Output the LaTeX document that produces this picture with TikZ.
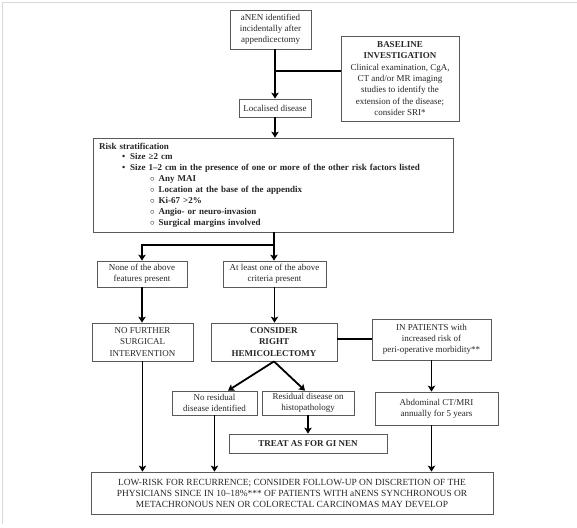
\documentclass[tikz,border=0pt]{standalone}
\usepackage{fontspec}
\setmainfont{Liberation Serif}
\usetikzlibrary{arrows.meta}
\begin{document}
\begin{tikzpicture}[x=1pt,y=-1pt,
  bx/.style={draw=black!65, line width=0.8pt, inner sep=0pt, align=center,
    font=\fontsize{9}{11.3}\selectfont, text=black!85},
  arr/.style={line width=1.8pt, -{Stealth[length=6pt,width=7.5pt,inset=1.5pt]}},
  ln/.style={line width=1.8pt}]
\useasboundingbox (0,0) rectangle (577,527);
\draw[black!15, line width=0.8pt] (2,524) -- (2,2) -- (577,2);

\node[bx, minimum width=81pt, minimum height=39pt] (anen) at (270.5,29.5)
  {aNEN identified\\incidentally after\\appendicectomy};
\node[bx, minimum width=72pt, minimum height=18pt] (loc) at (275,108) {Localised disease};
\node[bx, minimum width=118pt, minimum height=85pt] (base) at (400,78.5)
  {\textbf{BASELINE}\\\textbf{INVESTIGATION}\\Clinical examination, CgA,\\CT and/or MR imaging\\studies to identify the\\extension of the disease;\\consider SRI*};
\node[bx, minimum width=360pt, minimum height=94pt, text width=352pt, align=left,
  font=\fontsize{9}{10.9}\selectfont\bfseries] (risk) at (273,185)
  {\hspace*{2pt}Risk stratification\\
   \hspace*{25pt}\textbullet\hspace{5pt}Size ≥2 cm\\
   \hspace*{25pt}\textbullet\hspace{5pt}Size 1–2 cm in the presence of one or more of the other risk factors listed\\
   \hspace*{53pt}$\circ$\hspace{4pt}Any MAI\\
   \hspace*{53pt}$\circ$\hspace{4pt}Location at the base of the appendix\\
   \hspace*{53pt}$\circ$\hspace{4pt}Ki-67 >2\%\\
   \hspace*{53pt}$\circ$\hspace{4pt}Angio- or neuro-invasion\\
   \hspace*{53pt}$\circ$\hspace{4pt}Surgical margins involved};
\node[bx, minimum width=90pt, minimum height=26pt] (none) at (142,274)
  {None of the above\\features present};
\node[bx, minimum width=103pt, minimum height=26pt] (atleast) at (274.5,274)
  {At least one of the above\\criteria present};
\node[bx, minimum width=101pt, minimum height=38pt] (nofurther) at (142.5,342)
  {NO FURTHER\\SURGICAL\\INTERVENTION};
\node[bx, minimum width=126pt, minimum height=38pt] (consider) at (274,342)
  {\textbf{CONSIDER}\\\textbf{RIGHT}\\\textbf{HEMICOLECTOMY}};
\node[bx, minimum width=119pt, minimum height=41pt] (inpat) at (431.5,339.5)
  {IN PATIENTS with\\increased risk of\\peri-operative morbidity**};
\node[bx, minimum width=85pt, minimum height=24pt] (nores) at (214.5,403)
  {No residual\\disease identified};
\node[bx, minimum width=92pt, minimum height=24pt] (res) at (308,403)
  {Residual disease on\\histopathology};
\node[bx, minimum width=158pt, minimum height=19pt] (treat) at (308,443.5)
  {\textbf{TREAT AS FOR GI NEN}};
\node[bx, minimum width=123pt, minimum height=33pt] (abd) at (436.5,408.5)
  {Abdominal CT/MRI\\annually for 5 years};
\node[bx, minimum width=402pt, minimum height=42pt, font=\fontsize{9.4}{11}\selectfont] (low) at (292,493)
  {LOW-RISK FOR RECURRENCE; CONSIDER FOLLOW-UP ON DISCRETION OF THE\\PHYSICIANS SINCE IN 10–18\%*** OF PATIENTS WITH aNENS SYNCHRONOUS OR\\METACHRONOUS NEN OR COLORECTAL CARCINOMAS MAY DEVELOP};

% connectors
\draw[arr] (anen.south -| loc.north) -- (loc.north);
\coordinate (j1) at (275,71);
\draw[ln] (base.west |- j1) -- (j1);
\draw[arr] (loc.south) -- (loc.south |- risk.north);
\coordinate (s) at (274,245);
\draw[ln] (risk.south -| s) -- (s);
\draw[arr] (s) -- (s |- atleast.north);
\draw[arr] (s) -| (none.north);
\draw[arr] (none.south) -- (none.south |- nofurther.north);
\draw[arr] (atleast.south) -- (atleast.south |- consider.north);
\coordinate (c2) at (350,339);
\draw[ln] (consider.east |- c2) -- (inpat.west |- c2);
\draw[arr] (consider.south) -- ([xshift=13.5pt]nores.north);
\draw[arr] (consider.south) -- ([xshift=-3pt]res.north);
\draw[arr] (nofurther.south) -- (nofurther.south |- low.north);
\draw[arr] (nores.south) -- (nores.south |- low.north);
\draw[arr] (res.south) -- (res.south |- treat.north);
\draw[arr] (inpat.south) -- (inpat.south |- abd.north);
\draw[arr] (abd.south -| inpat.south) -- (inpat.south |- low.north);
\end{tikzpicture}
\end{document}
